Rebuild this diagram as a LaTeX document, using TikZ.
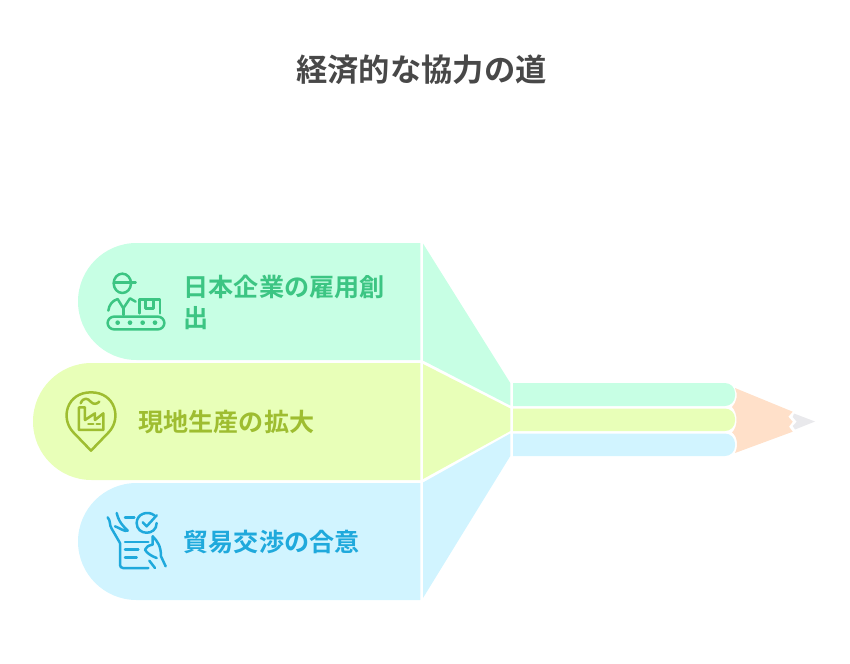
\documentclass[tikz,border=0pt]{standalone}
\usepackage{fontspec}
\setmainfont{Noto Sans CJK JP}[BoldFont={Noto Sans CJK JP Bold}]
\definecolor{greenF}{HTML}{C7FFE4}
\definecolor{limeF}{HTML}{E8FFB8}
\definecolor{blueF}{HTML}{D1F4FF}
\definecolor{orangeF}{HTML}{FFE0C9}
\definecolor{greyF}{HTML}{E9E9EC}
\definecolor{greenT}{HTML}{3CC583}
\definecolor{limeT}{HTML}{9EBD30}
\definecolor{blueT}{HTML}{1FA9DC}
\definecolor{titleT}{HTML}{484848}

\begin{document}
\begin{tikzpicture}[x=1pt,y=-1pt,
	headline/.style={font=\bfseries\fontsize{31.3}{31}\selectfont,text=titleT,inner sep=0pt},
	label/.style={font=\bfseries\fontsize{25.1}{31}\selectfont,anchor=west,align=left,inner sep=0pt},
	icon/.style={line width=2.5pt,line cap=round,line join=round,fill=none},
]

	\useasboundingbox (0,0) rectangle (850,663);

	\node[headline](title) at(421.5,70){経済的な協力の道};

	\fill[greenF] (420.3,243) [rounded corners=58.5pt] -- (78,243) -- (78,360) [sharp corners] -- (420.3,360) -- cycle;
	\fill[limeF] (420.3,363) [rounded corners=58.5pt] -- (33,363) -- (33,480) [sharp corners] -- (420.3,480) -- cycle;
	\fill[blueF] (420.3,483) [rounded corners=58.5pt] -- (78,483) -- (78,600) [sharp corners] -- (420.3,600) -- cycle;

	\fill[greenF] (423,243.5) -- (510.3,383) -- (510.3,405.5) -- (423,360.5) -- cycle;
	\fill[limeF] (423,364) -- (510.3,408.5) -- (510.3,431) -- (423,479) -- cycle;
	\fill[blueF] (423,482.5) -- (510.3,433.5) -- (510.3,456) -- (423,598) -- cycle;

	\fill[greenF] (513,383) [rounded corners=10pt] -- (735,383) -- (735,406) [sharp corners] -- (513,406) -- cycle;
	\fill[limeF] (513,408.5) [rounded corners=10pt] -- (735,408.5) -- (735,431) [sharp corners] -- (513,431) -- cycle;
	\fill[blueF] (513,433.5) [rounded corners=10pt] -- (735,433.5) -- (735,456) [sharp corners] -- (513,456) -- cycle;

	\fill[orangeF] (735,388) -- (792.7,411.7) -- (788.3,416.7) -- (792.7,421.7) -- (789,426.7) -- (792.7,431.7) -- (735,453)
		.. controls (738,447) and (738,437) .. (732,432.5)
		.. controls (738,427) and (738,413) .. (732,407)
		.. controls (737,402) and (738,394) .. (735,388) -- cycle;
	\fill[greyF] (794,413.5) -- (815,421.5) -- (795,429.5) -- (792.7,426) -- (796.7,421.7) -- (792.7,417) -- cycle;

	\node[label,text=greenT](s0) at(183.5,302.5){日本企業の雇用創\\出};
	\node[label,text=limeT](s1) at(138.3,422){現地生産の拡大};
	\node[label,text=blueT](s2) at(183.5,542){貿易交渉の合意};

	\begin{scope}[shift={(105,270)},x=0.3333pt,y=-0.3333pt,draw=greenT]
		\draw[icon] (52,40) circle[x radius=26,y radius=29];
		\draw[icon] (27,38) -- (92,38);
		\draw[icon] (10,122) .. controls (12,105) and (22,92) .. (38,87) -- (55,115) -- (75,85) -- (92,95);
		\draw[icon] (55,115) -- (55,135);
		\draw[icon] (103,130) -- (103,88) -- (165,88) -- (165,130);
		\draw[icon] (122,88) -- (122,115) -- (145,115) -- (145,88);
		\draw[icon,rounded corners=6.3pt] (8,140) rectangle (178,178);
		\foreach \px in {38,75,113,150}
			\fill[greenT] (\px,158) circle[radius=7];
	\end{scope}

	\begin{scope}[shift={(50,380)},x=0.3333pt,y=-0.3333pt,draw=limeT]
		\draw[icon] (123,212) -- (70,157) .. controls (30,115) and (50,37) .. (123,37)
			.. controls (196,37) and (216,115) .. (176,157) -- cycle;
		\draw[icon] (87,150) -- (87,82) -- (105,82) -- (105,120) -- (135,100) -- (135,120) -- (160,100) -- (160,150) -- cycle;
		\draw[icon] (115,132) -- (130,132);
		\draw[icon] (140,132) -- (150,132);
		\draw[icon] (92,70) .. controls (100,50) and (115,55) .. (122,65) .. controls (130,75) and (142,72) .. (148,65);
	\end{scope}

	\begin{scope}[shift={(105,508)},x=0.3333pt,y=-0.3333pt,draw=blueT]
		\draw[icon] (60,102) -- (130,102);
		\draw[icon,rounded corners=3pt] (45,105) -- (45,180) -- (130,180);
		\draw[icon] (60,125) -- (100,125);
		\draw[icon] (60,148) -- (95,148);
		\draw[icon] (60,28) -- (88,28);
		\draw[icon] (148,22) .. controls (128,6) and (95,18) .. (95,45) .. controls (95,84) and (155,84) .. (155,45);
		\draw[icon] (113,43) -- (125,55) -- (155,22);
		\draw[icon] (8,28) .. controls (18,40) and (12,50) .. (20,62) -- (45,105);
		\draw[icon] (35,15) .. controls (40,35) and (45,45) .. (68,68) .. controls (58,72) and (45,60) .. (30,55);
		\draw[icon] (143,85) .. controls (158,100) and (168,115) .. (168,145) -- (182,175);
		\draw[icon] (143,85) -- (143,110) .. controls (130,112) and (122,118) .. (120,125) .. controls (125,135) and (140,145) .. (155,150);
		\draw[icon] (133,158) -- (150,180);
	\end{scope}

\end{tikzpicture}
\end{document}
